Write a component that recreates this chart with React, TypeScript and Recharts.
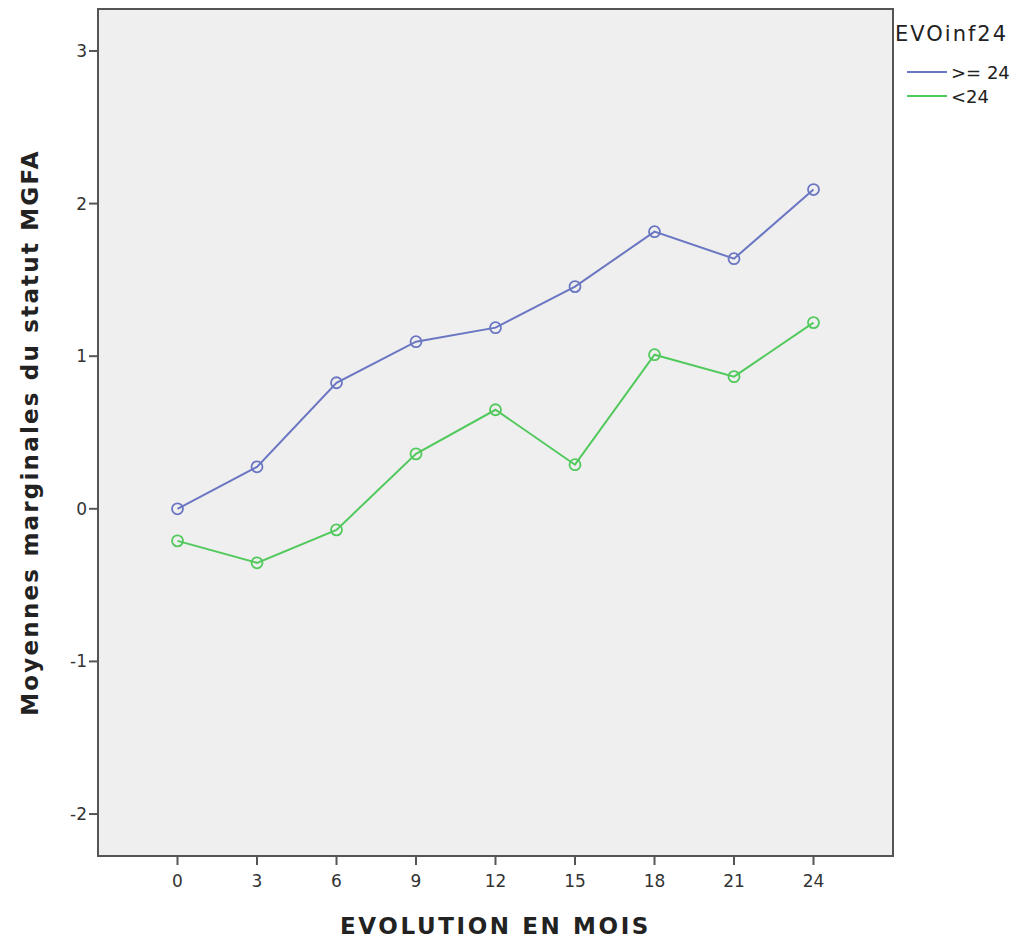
import React from "react";
import { LineChart, Line, XAxis, YAxis } from "recharts";

const months = [0, 3, 6, 9, 12, 15, 18, 21, 24];
const seriesGe24 = [0.0, 0.275, 0.826, 1.095, 1.187, 1.456, 1.816, 1.639, 2.092];
const seriesLt24 = [-0.21, -0.354, -0.138, 0.36, 0.649, 0.289, 1.01, 0.866, 1.22];
const xTicks = [0, 3, 6, 9, 12, 15, 18, 21, 24];
const yTicks = [-2, -1, 0, 1, 2, 3];
const seriesNames = [">= 24", "<24"];
const legendTitle = "EVOinf24";

const BLUE = "#6a76c2";
const GREEN = "#52c95c";
const FONT = "'DejaVu Sans', Verdana, sans-serif";

const data = months.map((m, i) => ({ m, a: seriesGe24[i], b: seriesLt24[i] }));

export default function App() {
  return (
    <div style={{ position: "absolute", left: 0, top: 0, width: 1019, height: 941, background: "#fff" }}>
      <LineChart
        width={1019}
        height={941}
        data={data}
        margin={{ top: 9, right: 126, left: 38, bottom: 0 }}
      >
        <rect x={98} y={9} width={795} height={847} fill="#efefef" stroke="#555" strokeWidth={2} />
        <XAxis
          dataKey="m"
          type="number"
          domain={[-3, 27]}
          ticks={xTicks}
          height={85}
          stroke="#555"
          strokeWidth={2}
          tickSize={9}
          tick={{ fill: "#333", fontSize: 17, fontFamily: FONT, dy: 8 }}
          label={{ value: "EVOLUTION EN MOIS", position: "insideBottom", offset: 7, fill: "#222", fontSize: 23, fontWeight: 700, fontFamily: FONT, letterSpacing: 2.6 }}
        />
        <YAxis
          type="number"
          domain={[-2.275, 3.275]}
          ticks={yTicks}
          width={60}
          stroke="#555"
          strokeWidth={2}
          tickSize={9}
          tick={{ fill: "#333", fontSize: 17, fontFamily: FONT }}
          label={{ value: "Moyennes marginales du statut MGFA", angle: -90, position: "insideLeft", offset: -8, style: { textAnchor: "middle" }, fill: "#222", fontSize: 23, fontWeight: 700, fontFamily: FONT, letterSpacing: 2.2 }}
        />
        <Line
          dataKey="a"
          stroke={BLUE}
          strokeWidth={2}
          dot={{ r: 5.5, stroke: BLUE, strokeWidth: 1.8, fill: "none" }}
          isAnimationActive={false}
        />
        <Line
          dataKey="b"
          stroke={GREEN}
          strokeWidth={2}
          dot={{ r: 5.5, stroke: GREEN, strokeWidth: 1.8, fill: "none" }}
          isAnimationActive={false}
        />
      </LineChart>
      <div style={{ position: "absolute", left: 895, top: 22, fontFamily: FONT, color: "#222" }}>
        <div style={{ fontSize: 21, letterSpacing: 2, marginBottom: 14 }}>{legendTitle}</div>
        {[BLUE, GREEN].map((c, i) => (
          <div key={i} style={{ display: "flex", alignItems: "center", height: 24, fontSize: 18 }}>
            <span style={{ display: "inline-block", width: 40, height: 2, background: c, marginLeft: 12, marginRight: 4 }} />
            <span>{seriesNames[i]}</span>
          </div>
        ))}
      </div>
    </div>
  );
}
